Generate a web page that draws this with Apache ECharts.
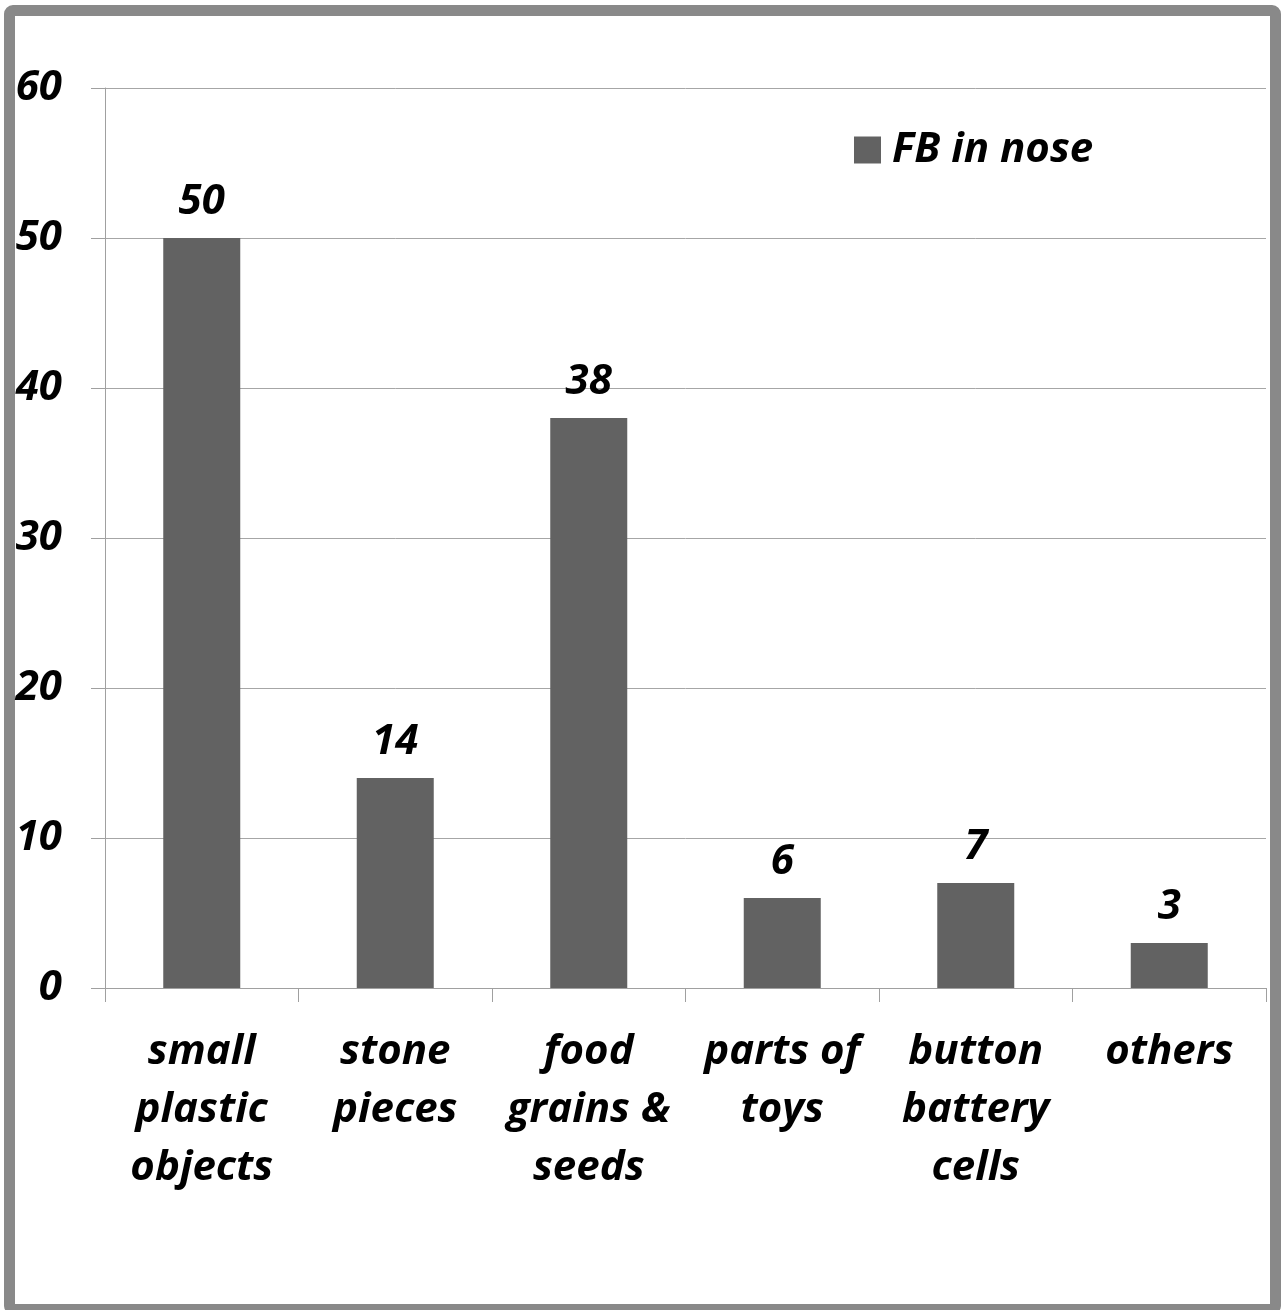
<!DOCTYPE html>
<html>
<head>
<meta charset="utf-8">
<script src="https://cdn.jsdelivr.net/npm/echarts@6/dist/echarts.min.js"></script>
<style>
  html, body { margin: 0; padding: 0; background: #fff; overflow: hidden; }
  #frame {
    position: absolute; left: 4px; top: 5px;
    width: 1255px; height: 1288px;
    border: 11px solid #898989; border-radius: 9px;
  }
  #chart { position: absolute; left: 0; top: 0; width: 1287px; height: 1310px; }
</style>
</head>
<body>
<div id="frame"></div>
<div id="chart"></div>
<script>
// Foreign bodies removed from the nose, by type
const categories = [
  'small\nplastic\nobjects',
  'stone\npieces',
  'food\ngrains &\nseeds',
  'parts of\ntoys',
  'button\nbattery\ncells',
  'others'
];
const fbInNose = [50, 14, 38, 6, 7, 3];
const yTicks = { min: 0, max: 60, interval: 10 };
const seriesName = 'FB in nose';

const FONT = '"Open Sans", "DejaVu Sans", sans-serif';
const FS = 42;
const textStyle = { fontFamily: FONT, fontWeight: 'bold', fontStyle: 'italic', color: '#000' };

const chart = echarts.init(document.getElementById('chart'), null, { renderer: 'canvas' });
chart.setOption({
  animation: false,
  backgroundColor: 'transparent',
  grid: { left: 105, top: 88, right: 21, bottom: 322, containLabel: false },
  legend: {
    data: [seriesName],
    left: 854, top: 129, padding: 0,
    itemWidth: 27, itemHeight: 27, itemGap: 0,
    icon: 'rect',
    textStyle: Object.assign({}, textStyle, { fontSize: FS, padding: [0, 0, 0, 6] })
  },
  xAxis: {
    type: 'category',
    data: categories,
    axisLine: { lineStyle: { color: '#a0a0a0', width: 1 } },
    axisTick: { show: true, length: 14, alignWithLabel: false, lineStyle: { color: '#a0a0a0' } },
    axisLabel: Object.assign({}, textStyle, {
      fontSize: FS, lineHeight: 58, margin: 35, interval: 0
    })
  },
  yAxis: {
    type: 'value',
    min: yTicks.min, max: yTicks.max, interval: yTicks.interval,
    axisLine: { show: true, lineStyle: { color: '#a0a0a0', width: 1 } },
    axisTick: { show: true, length: 14, lineStyle: { color: '#a0a0a0' } },
    splitLine: { show: true, lineStyle: { color: '#a6a6a6', width: 1 } },
    axisLabel: Object.assign({}, textStyle, { fontSize: FS, margin: 43 })
  },
  series: [{
    name: seriesName,
    type: 'bar',
    data: fbInNose,
    barWidth: 77,
    itemStyle: { color: '#626262' },
    label: Object.assign({}, textStyle, {
      show: true, position: 'top', distance: 15, fontSize: FS
    })
  }]
});
</script>
</body>
</html>
